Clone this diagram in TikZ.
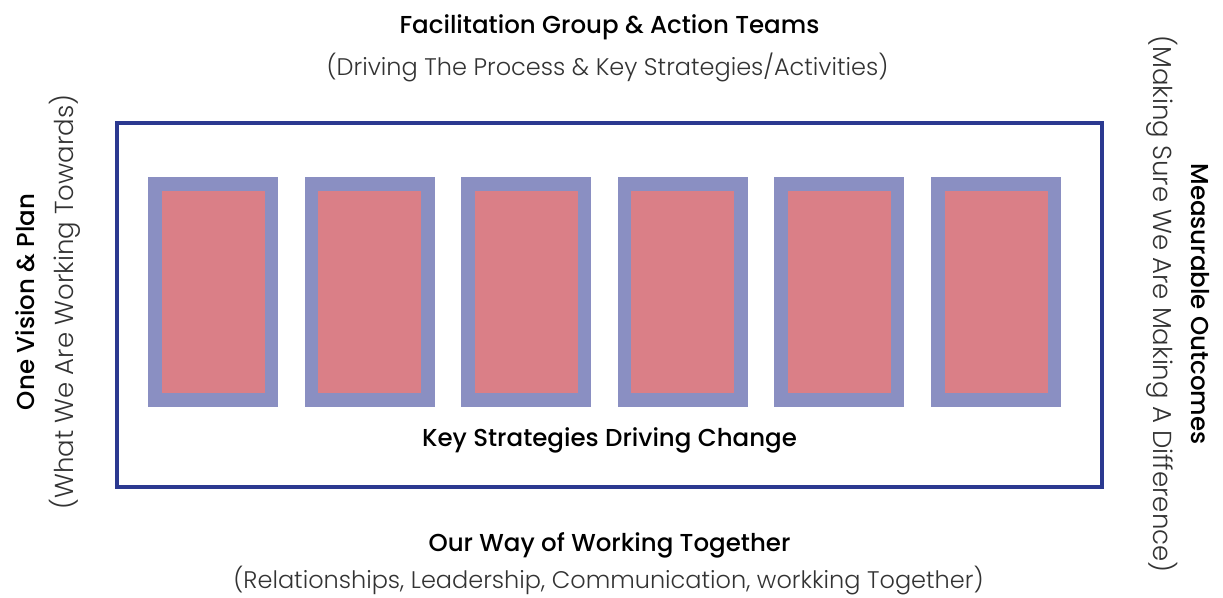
\documentclass[tikz,border=0pt]{standalone}
\usepackage{fontspec}
\setmainfont{Poppins}
\newfontfamily\mediumfont{Poppins Medium}
\newfontfamily\lightfont{Poppins Light}
\usetikzlibrary{positioning}
\definecolor{framecol}{HTML}{2B3990}
\definecolor{outercol}{HTML}{8A8FC2}
\definecolor{innercol}{HTML}{DA7F87}
\begin{document}
\begin{tikzpicture}[x=1pt,y=-1pt,
  heading/.style={font=\mediumfont\fontsize{24.5}{28}\selectfont, text=black, inner sep=0pt},
  subheading/.style={font=\lightfont\fontsize{24}{28}\selectfont, text=black!80, inner sep=0pt},
  column/.style={draw=none, fill=outercol, minimum width=130pt, minimum height=230pt, inner sep=0pt},
  columnfill/.style={fill=innercol, minimum width=103pt, minimum height=202pt, inner sep=0pt}]
\useasboundingbox (0,0) rectangle (1223,597);
% outer frame
\node[draw=framecol, line width=4.5pt, minimum width=985pt, minimum height=364pt, inner sep=0pt] (frame) at (609.5,305) {};
% the six strategy columns
\foreach \n in {1,...,6} {
  \node[column] (col\n) at (213+156.6*\n-156.6,292) {};
  \node[columnfill] (fill\n) at (col\n.center) {};
}
\node[heading] (key) at (609.5,440) {Key Strategies Driving Change};
% top
\node[heading] (top) at (609.5,27) {Facilitation Group \& Action Teams};
\node[subheading] (topsub) at (607.5,67) {(Driving The Process \& Key Strategies/Activities)};
% bottom
\node[heading] (bottom) at (609.5,545) {Our Way of Working Together};
\node[subheading] (bottomsub) at (608.5,580) {(Relationships, Leadership, Communication, workking Together)};
% left side
\node[heading, rotate=90] (left) at (25,302) {One Vision \& Plan};
\node[subheading, rotate=90, font=\lightfont\fontsize{26}{30}\selectfont] (leftsub) at (65,302) {(What We Are Working Towards)};
% right side
\node[heading, rotate=-90] (right) at (1200,304) {Measurable Outcomes};
\node[subheading, rotate=-90, font=\lightfont\fontsize{26}{30}\selectfont] (rightsub) at (1162,304) {(Making Sure We Are Making A Difference)};
\end{tikzpicture}
\end{document}
